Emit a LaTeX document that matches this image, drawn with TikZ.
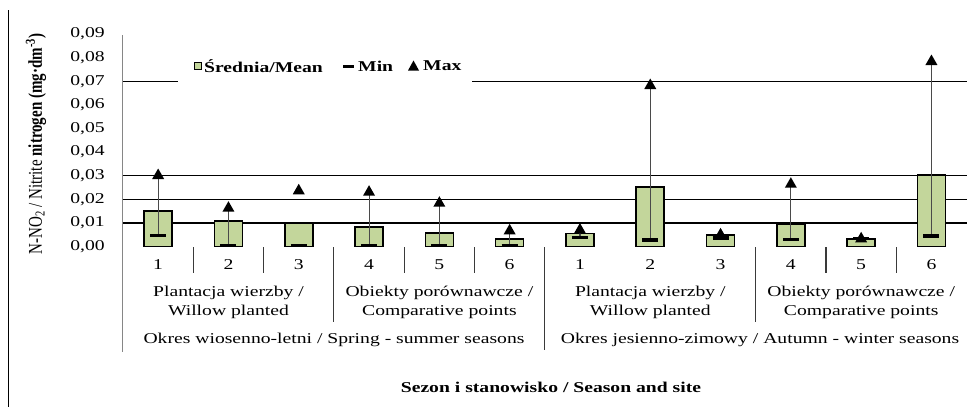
\documentclass[tikz,border=0pt]{standalone}
\usepackage{graphicx}
\usepackage{fontspec}
\setmainfont{Liberation Serif}[FakeStretch=1.31]
\newfontfamily\plainserif{Liberation Serif}
\definecolor{barfill}{HTML}{C3D69B}
\definecolor{axisgray}{HTML}{868686}
\definecolor{tickgray}{HTML}{3A3A3A}
\definecolor{whisk}{HTML}{4A4A4A}
\tikzset{
  txt/.style={font=\fontsize{15}{19}\selectfont, inner sep=0pt, align=center},
  ticklbl/.style={font=\fontsize{15}{17}\selectfont, inner sep=0pt, anchor=east},
  legtxt/.style={font=\fontsize{15}{17}\selectfont\bfseries, inner sep=0pt, anchor=west},
  gridln/.style={draw=black, line width=1.3pt},
  barbox/.style={fill=barfill, draw=black, line width=1.6pt},
  whiskline/.style={draw=whisk, line width=1.1pt},
  minmark/.style={draw=black, line width=3.5pt},
  maxmark/.style={fill=black},
  tickln/.style={draw=tickgray, line width=1.1pt},
}
\begin{document}
\begin{tikzpicture}[x=1pt,y=-1pt]
\useasboundingbox (0,0) rectangle (967,407);
\fill[white] (0,0) rectangle (967,407);
% chart frame (left edge)
\draw[black, line width=1pt] (8,10) -- (8,407);
% gridlines
\foreach \v in {0.01,0.02,0.03,0.07}
  \draw[gridln] (123,{246.5-\v*2360}) -- (967,{246.5-\v*2360});
% y axis
\draw[axisgray, line width=1.3pt] (122.7,35) -- (122.7,352);
% tick labels
\foreach \i in {0,...,9}
  \node[ticklbl] (yl\i) at (105,{246.5-\i*23.6}) {0,0\i};
% category ticks
\foreach \k in {1,2,4,5,10,11}
  \draw[tickln] ({123+\k*70.3},247) -- ({123+\k*70.3},273);
\foreach \k in {3,9}
  \draw[tickln] ({123+\k*70.3},247) -- ({123+\k*70.3},322);
\draw[tickln] ({123+6*70.3},247) -- ({123+6*70.3},350);
% bars: index / top / min / max / whisker?
\foreach \i/\tp/\mn/\mx/\w in {1/210.7/235.3/174/1, 2/220.7/245.5/206.7/1, 3/222.7/245.5/189.3/0,
   4/226.7/245.5/190.7/1, 5/232.7/245.5/201.7/1, 6/238.7/245.5/229.3/1,
   7/233.3/237.3/228.5/1, 8/186.7/240/84/1, 9/234.7/238/233.3/1,
   10/224/239.3/182.7/1, 11/238.7/238.7/237.3/1, 12/174.7/236/60/1}{
  \pgfmathsetmacro\xc{123+(\i-0.5)*70.3}
  \draw[barbox] (\xc-14,246.5) rectangle (\xc+14,\tp);
  \ifnum\w=1 \draw[whiskline] (\xc,\mn) -- (\xc,\mx); \fi
  \draw[minmark] (\xc-8,\mn) -- (\xc+8,\mn);
  \fill[maxmark] (\xc-6,\mx+5) -- (\xc+6,\mx+5) -- (\xc,\mx-5.5) -- cycle;
}
% category numbers
\foreach \i/\n in {1/1,2/2,3/3,4/4,5/5,6/6,7/1,8/2,9/3,10/4,11/5,12/6}
  \node[txt] (num\i) at ({123+(\i-0.5)*70.3},265) {\n};
% group labels
\node[txt] (g1) at (228.5,302.5) {Plantacja wierzby /\\Willow planted};
\node[txt] (g2) at (439.4,302.5) {Obiekty porównawcze /\\Comparative points};
\node[txt] (g3) at (650.3,302.5) {Plantacja wierzby /\\Willow planted};
\node[txt] (g4) at (861.2,302.5) {Obiekty porównawcze /\\Comparative points};
% season labels
\node[txt] (s1) at (334,340) {Okres wiosenno-letni / Spring - summer seasons};
\node[txt] (s2) at (760,340) {Okres jesienno-zimowy / Autumn - winter seasons};
% axis titles
\node[txt, font=\fontsize{15}{17}\selectfont\bfseries] (xt) at (551,387) {Sezon i stanowisko / Season and site};
\node[inner sep=0pt, rotate=90, font=\plainserif\fontsize{15}{18}\selectfont] (yt) at (36,144)
  {\scalebox{1}[1.3]{N-NO\textsubscript{2} / Nitrite \textbf{nitrogen (mg·dm\textsuperscript{-3})}}};
% legend
\fill[white] (178,48) rectangle (472,86);
\draw[fill=barfill, draw=black, line width=1.2pt] (194.5,62.5) rectangle (201.5,69.5);
\node[legtxt] (lmean) at (204,66) {Średnia/Mean};
\draw[minmark, line width=3pt] (343,66) -- (354,66);
\node[legtxt] (lmin) at (358,66) {Min};
\fill[maxmark] (408,70.5) -- (419,70.5) -- (413.5,60.5) -- cycle;
\node[legtxt] (lmax) at (423,66) {Max};
\end{tikzpicture}
\end{document}
